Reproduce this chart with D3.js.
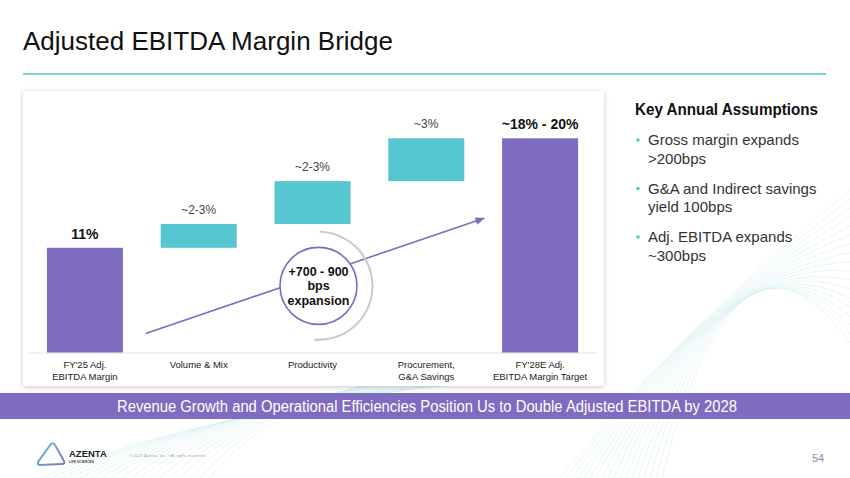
<!DOCTYPE html>
<html>
<head>
<meta charset="utf-8">
<script src="https://cdn.jsdelivr.net/npm/d3@7"></script>
<style>
  body { margin: 0; background: #fff; }
  svg { display: block; font-family: "Liberation Sans", Arial, sans-serif; }
</style>
</head>
<body>
<svg id="chart" width="850" height="478"></svg>
<script>
// chart data
const categories = ["FY'25 Adj.|EBITDA Margin", "Volume & Mix", "Productivity", "Procurement,|G&A Savings", "FY'28E Adj.|EBITDA Margin Target"];
const barTypes = ["total", "step", "step", "step", "total"];
const stepValues = [11, 2.5, 4.5, 4.5, 22.5]; // plotted size of each bar
const valueLabels = ["11%", "~2-3%", "~2-3%", "~3%", "~18% - 20%"];
const assumptions = [
  ["Gross margin expands", ">200bps"],
  ["G&A and Indirect savings", "yield 100bps"],
  ["Adj. EBITDA expands", "~300bps"]
];
const bubbleLines = ["+700 - 900", "bps", "expansion"];

const purple = "#7f6bbf", teal = "#56c6d0";

const svg = d3.select("#chart");
const defs = svg.append("defs");

// soft shadow for the chart panel
const f = defs.append("filter").attr("id", "shadow").attr("x", "-5%").attr("y", "-5%").attr("width", "110%").attr("height", "112%");
f.append("feDropShadow").attr("dx", 0).attr("dy", 1).attr("stdDeviation", 2.5).attr("flood-color", "#000").attr("flood-opacity", 0.22);

defs.append("marker").attr("id", "arrow")
  .attr("viewBox", "0 0 10 10").attr("refX", 9).attr("refY", 5)
  .attr("markerWidth", 6).attr("markerHeight", 6).attr("orient", "auto")
  .append("path").attr("d", "M0,1 L10,5 L0,9 Z").attr("fill", purple);

const lg = defs.append("linearGradient").attr("id", "logoGrad").attr("x1", 0).attr("y1", 0).attr("x2", 1).attr("y2", 1);
lg.append("stop").attr("offset", "0%").attr("stop-color", "#5bc5d8");
lg.append("stop").attr("offset", "100%").attr("stop-color", "#8a72c8");

// faint background waves
const waves = svg.append("g").attr("fill", "none").attr("stroke", "#d9f0f2").attr("stroke-width", 0.6);
d3.range(18).forEach(i => {
  waves.append("path").attr("d",
    `M${560 + i * 6},478 C${640 + i * 4},${380 - i * 5} ${720 + i * 3},${300 - i * 4} 850,${190 + i * 9}`);
  waves.append("path").attr("d",
    `M${40 + i * 10},478 C${180 + i * 6},${420 - i * 2} ${300 + i * 8},${410 - i * 3} ${430 + i * 4},${385}`);
});

// title
svg.append("text").attr("x", 23).attr("y", 50).attr("font-size", 26).attr("fill", "#111")
  .attr("textLength", 370).attr("lengthAdjust", "spacingAndGlyphs")
  .text("Adjusted EBITDA Margin Bridge");
svg.append("line").attr("x1", 23).attr("x2", 826).attr("y1", 74).attr("y2", 74)
  .attr("stroke", "#7fd3d9").attr("stroke-width", 1.8);

// panel
svg.append("rect").attr("x", 23).attr("y", 91).attr("width", 581).attr("height", 295)
  .attr("fill", "#fff").attr("filter", "url(#shadow)");

// scales
const x = d3.scaleBand().domain(categories).range([28, 597]).paddingInner(0.332).paddingOuter(0.166);
const y = d3.scaleLinear().domain([0, 22.5]).range([352.5, 138.3]);

// waterfall layout
let running = 0;
const bars = categories.map((c, i) => {
  let y0, y1;
  if (barTypes[i] === "total") { y0 = 0; y1 = stepValues[i]; running = y1; }
  else { y0 = running; y1 = running + stepValues[i]; running = y1; }
  return { cat: c, type: barTypes[i], y0, y1, label: valueLabels[i] };
});

const g = svg.append("g");

// baseline axis
const axis = g.append("g").attr("transform", `translate(0,${y(0)})`)
  .call(d3.axisBottom(x).tickSize(0).tickFormat(""));
axis.select(".domain").attr("stroke", "#e2e2e2").attr("stroke-width", 1);

// arrow and bubble (drawn behind bars)
const ax1 = x(categories[1]) - 15, ay1 = y(2);
const ax2 = x(categories[4]) - 18, ay2 = y(14.1);
g.append("line").attr("x1", ax1).attr("y1", ay1).attr("x2", ax2).attr("y2", ay2)
  .attr("stroke", purple).attr("stroke-width", 1.6).attr("marker-end", "url(#arrow)");

const cx = x(categories[2]) + x.bandwidth() / 2 + 6, cy = y(7);
g.append("path").attr("transform", `translate(${cx},${cy})`)
  .attr("d", d3.arc()({ innerRadius: 53, outerRadius: 55, startAngle: 0.02, endAngle: Math.PI + 0.08 }))
  .attr("fill", "#c9c9c9");
g.append("circle").attr("cx", cx).attr("cy", cy).attr("r", 38.5)
  .attr("fill", "#fff").attr("stroke", purple).attr("stroke-width", 1.6);
g.append("text").attr("text-anchor", "middle").attr("font-size", 12.5).attr("font-weight", "bold").attr("fill", "#111")
  .selectAll("tspan").data(bubbleLines).join("tspan")
  .attr("x", cx).attr("y", (d, i) => cy - 10 + i * 14.5).text(d => d);

// bars
g.selectAll("rect.bar").data(bars).join("rect").attr("class", "bar")
  .attr("x", d => x(d.cat)).attr("width", x.bandwidth())
  .attr("y", d => y(d.y1)).attr("height", d => y(d.y0) - y(d.y1))
  .attr("fill", d => d.type === "total" ? purple : teal);

// value labels
g.selectAll("text.val").data(bars).join("text").attr("class", "val")
  .attr("x", d => x(d.cat) + x.bandwidth() / 2)
  .attr("y", d => y(d.y1) - (d.type === "total" ? 9 : 10))
  .attr("text-anchor", "middle")
  .attr("font-size", d => d.type === "total" ? 14 : 12)
  .attr("font-weight", d => d.type === "total" ? "bold" : "normal")
  .attr("fill", d => d.type === "total" ? "#111" : "#444")
  .text(d => d.label);

// category labels
g.selectAll("text.cat").data(categories).join("text").attr("class", "cat")
  .attr("text-anchor", "middle").attr("font-size", 9.5).attr("fill", "#222")
  .each(function (c) {
    d3.select(this).selectAll("tspan").data(c.split("|")).join("tspan")
      .attr("x", x(c) + x.bandwidth() / 2).attr("y", (d, i) => 368 + i * 11.5).text(d => d);
  });

// right side assumptions
svg.append("text").attr("x", 635).attr("y", 115).attr("font-size", 16.5).attr("font-weight", "bold")
  .attr("textLength", 183).attr("lengthAdjust", "spacingAndGlyphs")
  .attr("fill", "#111").text("Key Annual Assumptions");
const asg = svg.append("g");
assumptions.forEach((lines, i) => {
  const by = 145 + i * 48.5;
  asg.append("circle").attr("cx", 638).attr("cy", by - 5).attr("r", 1.8).attr("fill", teal);
  lines.forEach((t, j) => {
    asg.append("text").attr("x", 648).attr("y", by + j * 18.5).attr("font-size", 15)
      .attr("fill", "#333").text(t);
  });
});

// banner
svg.append("rect").attr("x", 0).attr("y", 393).attr("width", 850).attr("height", 26).attr("fill", purple);
svg.append("text").attr("x", 117).attr("y", 412).attr("font-size", 16)
  .attr("textLength", 620).attr("lengthAdjust", "spacingAndGlyphs")
  .attr("fill", "#fff")
  .text("Revenue Growth and Operational Efficiencies Position Us to Double Adjusted EBITDA by 2028");

// footer
svg.append("path").attr("d", "M51,444 Q53,442 55,445 L64,461 Q65,464 62,464 L40,465 Q37,465 38,462 Z")
  .attr("fill", "none").attr("stroke", "url(#logoGrad)").attr("stroke-width", 2);
svg.append("text").attr("x", 69).attr("y", 457).attr("font-size", 9.5).attr("font-weight", "bold")
  .attr("fill", "#222").text("AZENTA");
svg.append("text").attr("x", 69).attr("y", 462.5).attr("font-size", 3.3).attr("font-weight", "bold")
  .attr("fill", "#444").text("LIFE SCIENCES");
svg.append("text").attr("x", 129).attr("y", 457).attr("font-size", 4.3).attr("fill", "#aaa")
  .text("© 2025 Azenta, Inc. • All rights reserved");
svg.append("text").attr("x", 812).attr("y", 462).attr("font-size", 11).attr("fill", "#8f86bd").text("54");
</script>
</body>
</html>
